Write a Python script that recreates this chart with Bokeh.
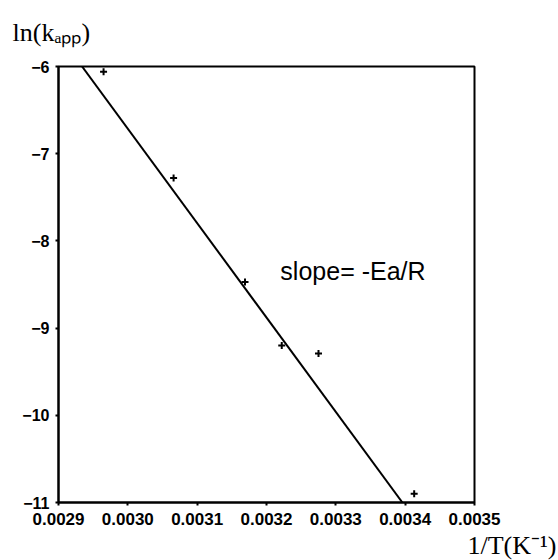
from bokeh.plotting import figure
from bokeh.models import Range1d, FixedTicker, PrintfTickFormatter, Label, Title
from bokeh.embed import file_html
from bokeh.resources import INLINE

# data
inv_T = [0.002965, 0.003066, 0.003169, 0.003222, 0.003275, 0.003413]
ln_k = [-6.06, -7.28, -8.47, -9.20, -9.29, -10.90]
fit_x = [0.002934, 0.003396]
fit_y = [-6.0, -11.0]
x_ticks = [0.0029, 0.0030, 0.0031, 0.0032, 0.0033, 0.0034, 0.0035]
y_ticks = [-11, -10, -9, -8, -7, -6]
y_tick_labels = {t: "\u2212" + str(abs(t)) for t in y_ticks}
y_title = "ln(k\u2090\u209a\u209a)"
x_title = "1/T(K\u207b\u00b9)"

p = figure(width=558, height=560, output_backend="svg", toolbar_location=None,
           x_range=Range1d(0.0029, 0.0035), y_range=Range1d(-11, -6),
           min_border_left=58, min_border_right=84, min_border_top=65, min_border_bottom=58)
p.xgrid.visible = False
p.ygrid.visible = False
p.outline_line_color = "black"
p.outline_line_width = 2
p.outline_line_alpha = 1
p.background_fill_color = "white"
p.border_fill_color = "white"

for ax in (p.xaxis[0], p.yaxis[0]):
    ax.axis_line_width = 2
    ax.axis_line_color = "black"
    ax.major_tick_in = 0
    ax.major_tick_out = 3
    ax.major_tick_line_width = 2
    ax.minor_tick_line_color = None
    ax.major_label_text_font = "Liberation Sans"
    ax.major_label_text_font_style = "bold"
    ax.major_label_text_color = "black"

p.xaxis.ticker = FixedTicker(ticks=x_ticks)
p.xaxis.formatter = PrintfTickFormatter(format="%.4f")
p.xaxis.major_label_text_font_size = "17px"
p.xaxis.major_label_standoff = 7
p.yaxis.ticker = FixedTicker(ticks=y_ticks)
p.yaxis.major_label_overrides = y_tick_labels
p.yaxis.major_label_text_font_size = "16px"
p.yaxis.major_label_standoff = 6

p.line(fit_x, fit_y, line_color="black", line_width=2)
p.scatter(inv_T, ln_k, marker="cross", size=7, line_width=2, color="black")

p.add_layout(Label(x=0.003220, y=-8.34, text="slope= -Ea/R", text_font="Liberation Sans",
                   text_font_size="25px", text_baseline="middle", text_color="black"))

p.add_layout(Title(text=y_title, align="left", offset=-46, standoff=35, vertical_align="top",
                   text_font="Liberation Serif", text_font_size="26px",
                   text_font_style="normal", text_color="black"), "above")
p.add_layout(Title(text=x_title, align="right", offset=-82, standoff=2,
                   text_font="Liberation Serif", text_font_size="26px",
                   text_font_style="normal", text_color="black"), "below")

open("out.html", "w").write(file_html(p, INLINE))
